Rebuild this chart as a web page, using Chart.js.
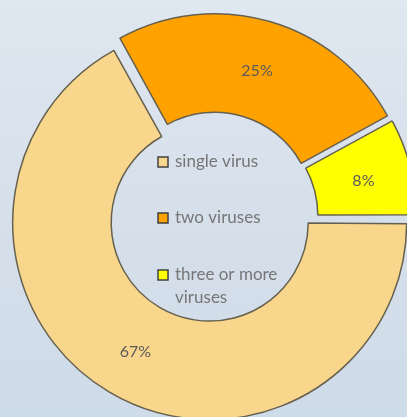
<!DOCTYPE html>
<html>
<head>
<meta charset="utf-8">
<script src="https://cdn.jsdelivr.net/npm/chart.js@4.4.1/dist/chart.umd.min.js"></script>
<style>
  html, body { margin: 0; padding: 0; width: 407px; height: 417px; overflow: hidden; }
  body { background: linear-gradient(to bottom, #dfe7f0 0%, #d6e0eb 50%, #cedbe8 100%); position: relative; }
  #wrap { position: absolute; left: -7px; top: -3px; width: 440px; height: 440px; }
</style>
</head>
<body>
<div id="wrap"><canvas id="c" width="440" height="440"></canvas></div>
<script>
const categories = ["single virus", "two viruses", "three or more viruses"];
const values = [67, 25, 8];
const valueLabels = ["67%", "25%", "8%"];
const colors = ["#f8d68c", "#ffa200", "#ffff00"];

// keep every exploded slice at the same radii (Chart.js enlarges wide exploded arcs)
const equalRadiusPlugin = {
  id: 'equalRadius',
  beforeDatasetsDraw(chart) {
    const meta = chart.getDatasetMeta(0);
    const ctrl = meta.controller;
    meta.data.forEach(arc => {
      const off = (arc.options.offset || 0) / 4;
      const circ = arc.endAngle - arc.startAngle;
      const fix = 1 - Math.sin(Math.min(Math.PI, circ));
      const ro = off * fix;
      arc.outerRadius = ctrl.outerRadius - ro;
      arc.innerRadius = ctrl.innerRadius - ro;
    });
  }
};

const labelPlugin = {
  id: 'labels',
  afterDatasetsDraw(chart) {
    const ctx = chart.ctx;
    const meta = chart.getDatasetMeta(0);
    const ctrl = meta.controller;
    ctx.save();
    ctx.font = '16px Lato';
    ctx.fillStyle = '#5a5a5a';
    ctx.textAlign = 'center';
    ctx.textBaseline = 'middle';
    meta.data.forEach((arc, i) => {
      const mid = (arc.startAngle + arc.endAngle) / 2;
      const r = (ctrl.innerRadius + ctrl.outerRadius) / 2 + (arc.options.offset || 0) / 4;
      ctx.fillText(valueLabels[i], arc.x + Math.cos(mid) * r + 1, arc.y + Math.sin(mid) * r + 2);
    });
    // legend inside the hole
    const rows = [-55, 1, 58];
    ctx.font = '17px Lato';
    ctx.textAlign = 'left';
    categories.forEach((name, i) => {
      const y = (chart.chartArea.top + chart.chartArea.bottom) / 2 + rows[i];
      const bx = (chart.chartArea.left + chart.chartArea.right) / 2 - 55;
      ctx.fillStyle = colors[i];
      ctx.fillRect(bx, y - 5, 10, 10);
      ctx.strokeStyle = '#404040';
      ctx.lineWidth = 1.5;
      ctx.strokeRect(bx, y - 5, 10, 10);
      ctx.fillStyle = '#767676';
      const words = name.split(' ');
      let line = '', ly = y;
      const maxW = 118;
      words.forEach(w => {
        const test = line ? line + ' ' + w : w;
        if (ctx.measureText(test).width > maxW && line) {
          ctx.fillText(line, bx + 17, ly);
          line = w; ly += 23;
        } else line = test;
      });
      ctx.fillText(line, bx + 17, ly);
    });
    ctx.restore();
  }
};

new Chart(document.getElementById('c'), {
  type: 'doughnut',
  data: {
    labels: categories,
    datasets: [{
      data: values,
      backgroundColor: colors,
      borderColor: '#66604f',
      borderWidth: 1.5,
      offset: 26,
      hoverOffset: 26
    }]
  },
  options: {
    responsive: false,
    animation: false,
    rotation: 90,
    radius: 197,
    cutout: '50%',
    layout: { padding: 0 },
    events: [],
    plugins: {
      legend: { display: false },
      tooltip: { enabled: false }
    }
  },
  plugins: [equalRadiusPlugin, labelPlugin]
});
</script>
</body>
</html>
